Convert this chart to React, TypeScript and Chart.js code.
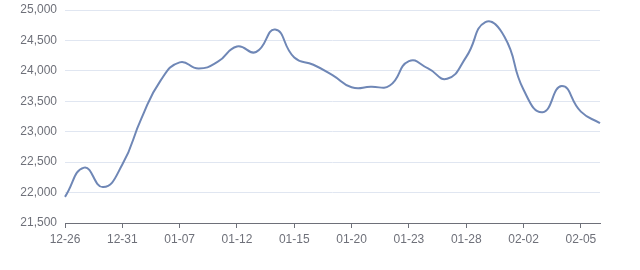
import React, { useEffect, useRef } from "react";
import { Chart, registerables } from "chart.js";

Chart.register(...registerables);

const categories = [
  "12-26", "12-27", "12-30", "12-31", "01-02", "01-03", "01-07", "01-08", "01-10",
  "01-12", "01-13", "01-14", "01-15", "01-16", "01-17", "01-20", "01-21", "01-22",
  "01-23", "01-24", "01-27", "01-28", "01-29", "02-01", "02-02", "02-03", "02-04",
  "02-05", "02-06",
];

const prices = [
  21930, 22410, 22090, 22460, 23220, 23840, 24140, 24040, 24150,
  24400, 24310, 24680, 24220, 24100, 23930, 23730, 23740, 23760,
  24160, 24040, 23870, 24230, 24800, 24560, 23690, 23320, 23750,
  23330, 23140,
];

const yTicks = [21500, 22000, 22500, 23000, 23500, 24000, 24500, 25000];

export default function App() {
  const ref = useRef<HTMLCanvasElement | null>(null);
  useEffect(() => {
    if (!ref.current) return;
    const font = { family: "'Liberation Sans', Arial, sans-serif", size: 12 };
    const chart = new Chart(ref.current, {
      type: "line",
      data: {
        labels: categories,
        datasets: [
          {
            data: prices,
            borderColor: "#6f87b6",
            borderWidth: 2,
            pointRadius: 0,
            tension: 0.5,
            fill: false,
          },
        ],
      },
      options: {
        animation: false,
        responsive: false,
        maintainAspectRatio: false,
        layout: { padding: { top: 10, right: 40, left: 0, bottom: 0 } },
        plugins: { legend: { display: false }, tooltip: { enabled: false } },
        scales: {
          x: {
            type: "category",
            offset: false,
            afterBuildTicks: (scale: any) => {
              scale.ticks = scale.ticks.filter((t: any) => t.value % 3 === 0);
            },
            afterFit: (scale: any) => {
              scale.height = 47;
              scale.paddingLeft = 0;
              scale.paddingRight = 0;
            },
            ticks: {
              autoSkip: false,
              maxRotation: 0,
              color: "#6E7079",
              font,
              padding: 4,
            },
            grid: {
              display: true,
              drawOnChartArea: false,
              drawTicks: true,
              tickLength: 5,
              color: "#6E7079",
            },
            border: { display: true, color: "#6E7079", width: 1 },
          },
          y: {
            min: 21500,
            max: 25000,
            afterBuildTicks: (scale: any) => {
              scale.ticks = yTicks.map((v) => ({ value: v }));
            },
            afterFit: (scale: any) => {
              scale.width = 65;
              scale.paddingTop = 0;
              scale.paddingBottom = 0;
            },
            ticks: {
              color: "#6E7079",
              font,
              padding: 8,
              callback: (v: any) => Number(v).toLocaleString("en-US"),
            },
            grid: { color: "#E0E6F1", drawTicks: false },
            border: { display: false },
          },
        },
      },
    });
    return () => chart.destroy();
  }, []);
  return (
    <div style={{ position: "fixed", left: 0, top: 0, width: 640, height: 270, background: "#fff" }}>
      <canvas ref={ref} width={640} height={270} style={{ width: 640, height: 270 }} />
    </div>
  );
}
